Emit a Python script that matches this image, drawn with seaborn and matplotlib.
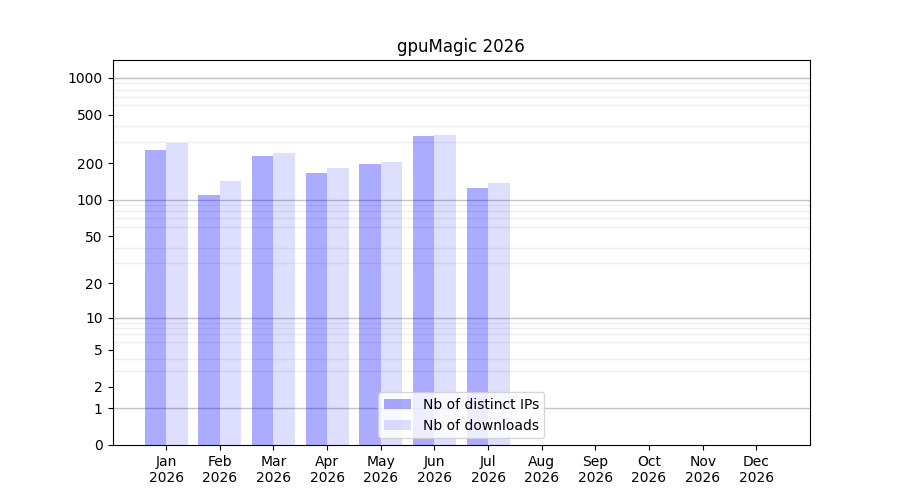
import numpy as np
import pandas as pd
import seaborn as sns
import matplotlib.pyplot as plt
from matplotlib.ticker import FixedLocator, NullFormatter

months = ['Jan', 'Feb', 'Mar', 'Apr', 'May', 'Jun', 'Jul', 'Aug', 'Sep', 'Oct', 'Nov', 'Dec']
year = 2026
ips = [257, 110, 230, 167, 198, 335, 125]
downloads = [294, 144, 244, 183, 205, 342, 138]
yticks = [0, 1, 2, 5, 10, 20, 50, 100, 200, 500, 1000]
labels = ['Nb of distinct IPs', 'Nb of downloads']

# long format for seaborn
df = pd.DataFrame({
    'month': months[:len(ips)] * 2,
    'value': ips + downloads,
    'series': [labels[0]] * len(ips) + [labels[1]] * len(downloads),
})

fig, ax = plt.subplots(figsize=(9, 5), dpi=100)
sns.barplot(data=df, x='month', y='value', hue='series', order=months,
            palette=['blue', 'blue'], saturation=1, ax=ax)

# transparent blue bars, lighter for downloads
for cont, a in zip(ax.containers, [0.33, 0.13]):
    for p in cont:
        p.set_facecolor((0, 0, 1, a))
        p.set_edgecolor('none')

# log(x+1) scale so 0 can be shown
ax.set_yscale('function', functions=(lambda v: np.log10(np.maximum(v, 0) + 1),
                                     lambda v: 10 ** v - 1))
ax.set_ylim(0, 1400)
ax.set_xlim(-1, 12)
ax.yaxis.set_major_locator(FixedLocator(yticks))
ax.set_yticklabels([str(t) for t in yticks])
minor = [m * 10 ** k for k in range(0, 3) for m in range(2, 10)]
ax.yaxis.set_minor_locator(FixedLocator(minor))
ax.yaxis.set_minor_formatter(NullFormatter())
ax.tick_params(axis='y', which='minor', length=0)
ax.grid(False)
ax.grid(True, axis='y', which='minor', color='#eeeeee', linewidth=1)
for d in [1, 10, 100, 1000]:
    ax.axhline(d, color='#c4c4c4', linewidth=1, zorder=0.5)
ax.set_axisbelow(True)

ax.set_xticks(range(len(months)))
ax.set_xticklabels([f'{m}\n{year}' for m in months])
ax.set_xlabel('')
ax.set_ylabel('')
ax.set_title(f'gpuMagic {year}')
ax.legend(ax.containers, labels, loc='lower center')

plt.savefig('out.png')
